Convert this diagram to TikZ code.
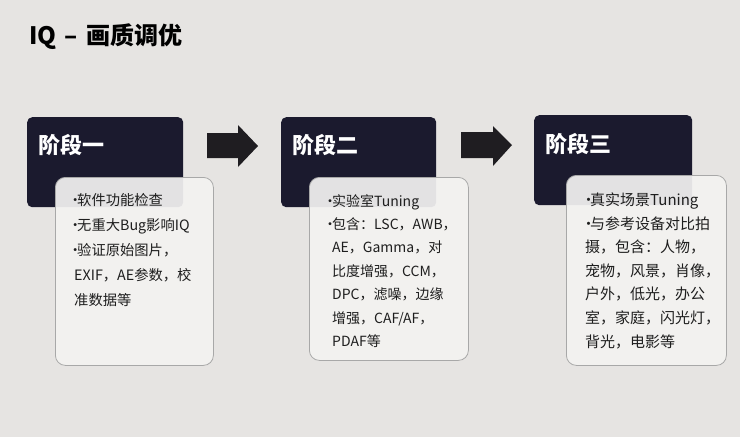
\documentclass[tikz,border=0pt]{standalone}
\usepackage{fontspec}
\setmainfont{Noto Sans CJK SC}
\definecolor{bgc}{HTML}{E6E4E2}
\definecolor{darkbox}{HTML}{1B1A2E}
\definecolor{lightbox}{HTML}{F3F2F1}
\definecolor{boxline}{HTML}{A8A8A8}
\definecolor{textc}{HTML}{1E1E1E}
\definecolor{arrowc}{HTML}{1F1D21}
\newcommand{\bul}{\makebox[9pt][l]{•}}
\newcommand{\cont}{\hspace*{9pt}}
\begin{document}
\begin{tikzpicture}[x=1pt,y=-1pt,
  darkbox/.style={fill=darkbox, rounded corners=5pt, inner sep=0pt, anchor=north west},
  lightbox/.style={fill=lightbox, fill opacity=0.93, draw=boxline, line width=0.8pt, rounded corners=10pt, inner sep=0pt, anchor=north west},
  headtext/.style={text=white, font=\bfseries\fontsize{22}{26}\selectfont, anchor=base west, inner sep=0pt},
  bodytext/.style={text=textc, anchor=base west, align=left, inner sep=0pt},
  blockarrow/.style={fill=arrowc}]
\fill[bgc] (0,0) rectangle (740,437);
\useasboundingbox (0,0) rectangle (740,437);
% title
\node[anchor=base west, inner sep=0pt, text=black, font=\bfseries\fontsize{24}{28}\selectfont] (title) at (29,44) {IQ\hspace{3pt} –\hspace{3pt} 画质调优};
% dark boxes
\node[darkbox, minimum width=156pt, minimum height=90pt] (d1) at (27,117) {};
\node[darkbox, minimum width=155pt, minimum height=90pt] (d2) at (281,117) {};
\node[darkbox, minimum width=158pt, minimum height=90pt] (d3) at (534,115) {};
\node[headtext] (h1) at (38,153) {阶段一};
\node[headtext] (h2) at (292,153) {阶段二};
\node[headtext] (h3) at (545,152) {阶段三};
% arrows
\fill[blockarrow] (207,133) -- (238,133) -- (238,125) -- (258,146) -- (238,167) -- (238,158) -- (207,158) -- cycle;
\fill[blockarrow] (461,132) -- (493,132) -- (493,126) -- (512,145) -- (493,166) -- (493,158) -- (461,158) -- cycle;
% light boxes
\node[lightbox, minimum width=158pt, minimum height=188pt] (l1) at (55,177) {};
\node[lightbox, minimum width=159pt, minimum height=183pt] (l2) at (309,177) {};
\node[lightbox, minimum width=160pt, minimum height=190pt] (l3) at (566,175) {};
% body texts (anchor = baseline of last line)
\node[bodytext, font=\fontsize{14.3}{25}\selectfont] (t1) at (68,305.5) {\bul 软件功能检查\\\bul 无重大Bug影响IQ\\\bul 验证原始图片，\\\hspace*{6pt}EXIF，AE参数，校\\\hspace*{6pt}准数据等};
\node[bodytext, font=\fontsize{14}{23.4}\selectfont] (t2) at (323,346.4) {\bul 实验室Tuning\\\bul 包含：LSC，AWB，\\\cont AE，Gamma，对\\\cont 比度增强，CCM，\\\cont DPC，滤噪，边缘\\\cont 增强，CAF/AF，\\\cont PDAF等};
\node[bodytext, font=\fontsize{15}{23.6}\selectfont] (t3) at (581,347.1) {\bul 真实场景Tuning\\\bul 与参考设备对比拍\\\hspace*{4pt}摄，包含：人物，\\\hspace*{4pt}宠物，风景，肖像，\\\hspace*{4pt}户外，低光，办公\\\hspace*{4pt}室，家庭，闪光灯，\\\hspace*{4pt}背光，电影等};
\end{tikzpicture}
\end{document}
